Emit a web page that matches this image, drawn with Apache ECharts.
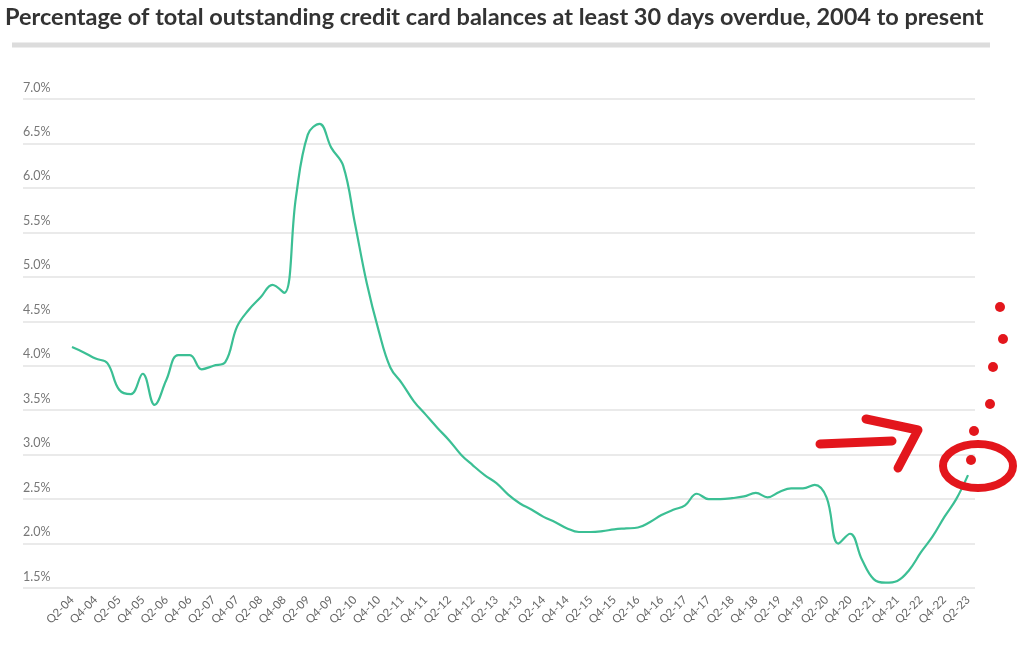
<!DOCTYPE html>
<html><head><meta charset="utf-8">
<script src="https://cdn.jsdelivr.net/npm/echarts@6/dist/echarts.min.js"></script>
<style>html,body{margin:0;padding:0;background:#fff}#c{width:1024px;height:650px}</style>
</head><body><div id="c"></div>
<script>
const titleText = 'Percentage of total outstanding credit card balances at least 30 days overdue, 2004 to present';
const quarters = ['Q2-04','Q3-04','Q4-04','Q1-05','Q2-05','Q3-05','Q4-05','Q1-06','Q2-06','Q3-06','Q4-06','Q1-07','Q2-07','Q3-07','Q4-07','Q1-08','Q2-08','Q3-08','Q4-08','Q1-09','Q2-09','Q3-09','Q4-09','Q1-10','Q2-10','Q3-10','Q4-10','Q1-11','Q2-11','Q3-11','Q4-11','Q1-12','Q2-12','Q3-12','Q4-12','Q1-13','Q2-13','Q3-13','Q4-13','Q1-14','Q2-14','Q3-14','Q4-14','Q1-15','Q2-15','Q3-15','Q4-15','Q1-16','Q2-16','Q3-16','Q4-16','Q1-17','Q2-17','Q3-17','Q4-17','Q1-18','Q2-18','Q3-18','Q4-18','Q1-19','Q2-19','Q3-19','Q4-19','Q1-20','Q2-20','Q3-20','Q4-20','Q1-21','Q2-21','Q3-21','Q4-21','Q1-22','Q2-22','Q3-22','Q4-22','Q1-23','Q2-23'];
const delinquency = [4.21,4.15,4.08,4.03,3.73,3.68,3.91,3.56,3.84,4.12,4.12,3.96,4.0,4.04,4.44,4.63,4.77,4.91,4.82,5.9,6.6,6.72,6.45,6.25,5.6,4.93,4.4,3.98,3.8,3.6,3.45,3.3,3.16,3.0,2.88,2.77,2.68,2.55,2.45,2.38,2.3,2.24,2.17,2.13,2.13,2.14,2.16,2.17,2.18,2.24,2.32,2.38,2.43,2.56,2.5,2.5,2.51,2.53,2.57,2.52,2.58,2.62,2.62,2.66,2.52,2.0,2.11,1.82,1.6,1.56,1.58,1.7,1.9,2.08,2.3,2.5,2.77];
const yMin = 1.5, yMax = 7.0, yStep = 0.5;

const chart = echarts.init(document.getElementById('c'));
const red = '#e3161c';
const dot = (x,y)=>({type:'circle',shape:{cx:x,cy:y,r:5},style:{fill:red},z:100});
chart.setOption({
  backgroundColor:'#fff',
  animation:false,
  title:{text:titleText,left:0,top:0,textStyle:{fontFamily:'Lato',fontWeight:'bold',fontSize:23.5,color:'#333'}},
  grid:[{left:23,right:49,top:99,bottom:62},{left:72,right:56,top:99,bottom:62}],
  xAxis:[
    {gridIndex:0,type:'category',data:quarters,show:false},
    {gridIndex:1,type:'category',data:quarters,boundaryGap:false,
     axisLine:{show:false},axisTick:{show:false},
     axisLabel:{interval:1,rotate:45,fontSize:11.5,color:'#666',fontFamily:'Lato',margin:10}}
  ],
  yAxis:[
    {gridIndex:0,type:'value',min:yMin,max:yMax,interval:yStep,
     axisLine:{show:false},axisTick:{show:false},
     splitLine:{lineStyle:{color:'#e3e3e3',width:1.5}},
     axisLabel:{inside:true,margin:0,verticalAlign:'bottom',padding:[0,0,5,0],fontSize:12.5,color:'#777',fontFamily:'Lato',formatter:v=>v.toFixed(1)+'%'}},
    {gridIndex:1,type:'value',min:yMin,max:yMax,interval:yStep,show:false}
  ],
  series:[{type:'line',xAxisIndex:1,yAxisIndex:1,data:delinquency,smooth:0.4,showSymbol:false,
    lineStyle:{color:'#3bbf94',width:2.2}}],
  graphic:[
    {type:'line',shape:{x1:12,y1:45,x2:990,y2:45},style:{stroke:'#dcdcdc',lineWidth:5}},
    {type:'polyline',shape:{points:[[820,444],[892,441]]},style:{stroke:red,lineWidth:9,lineCap:'round'},z:100},
    {type:'polyline',shape:{points:[[866,419],[918,430],[898,468]]},style:{stroke:red,lineWidth:9,lineCap:'round',lineJoin:'round',fill:null},z:100},
    {type:'ellipse',shape:{cx:978,cy:466,rx:35,ry:22},style:{stroke:red,lineWidth:8,fill:null},z:100},
    dot(1000,307),dot(1003,339),dot(993,367),dot(990,404),dot(974,431),dot(971,460)
  ]
});
</script></body></html>
